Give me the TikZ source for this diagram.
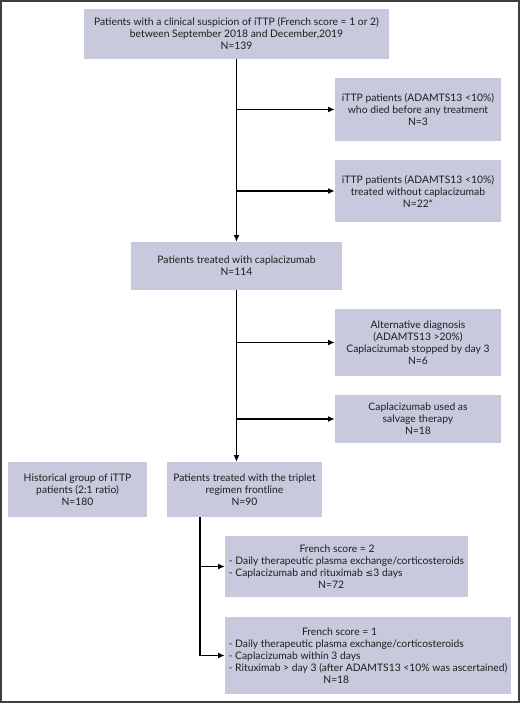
\documentclass[tikz,border=0pt]{standalone}
\usepackage{fontspec}
\setmainfont{Lato}
\usetikzlibrary{arrows.meta}
\definecolor{boxfill}{RGB}{200,201,220}
\definecolor{txt}{RGB}{30,30,30}
\newcommand{\myle}{{\fontspec{DejaVu Sans}\fontsize{7.1}{9}\selectfont≤}}
\begin{document}
\begin{tikzpicture}[x=0.75pt,y=-0.75pt,
  box/.style={fill=boxfill,draw=none,inner sep=0pt,align=center,text=txt,
    font=\fontsize{7.75}{9}\selectfont},
  arr/.style={line width=1.3pt,-{Latex[length=5pt,width=4.5pt]}},
  ln/.style={line width=1.3pt}]
\useasboundingbox (0,0) rectangle (520,703);
\draw[line width=1.4pt,black!75] (0.7,0.7) rectangle (519.3,702.3);
\node[box,minimum width=305*0.75pt,minimum height=50*0.75pt] (top) at (236.5,34)
  {Patients with a clinical suspicion of iTTP (French score = 1 or 2)\\between September 2018 and December,2019\\N=139};
\node[box,minimum width=166*0.75pt,minimum height=63*0.75pt] (died) at (418,109.5)
  {iTTP patients (ADAMTS13 <10\%)\\who died before any treatment\\N=3};
\node[box,minimum width=166*0.75pt,minimum height=62*0.75pt] (without) at (418,191)
  {iTTP patients (ADAMTS13 <10\%)\\treated without caplacizumab\\N=22*};
\node[box,minimum width=211*0.75pt,minimum height=48*0.75pt] (capla) at (236.5,266)
  {Patients treated with caplacizumab\\N=114};
\node[box,minimum width=166*0.75pt,minimum height=67*0.75pt] (alt) at (418,342.5)
  {Alternative diagnosis\\(ADAMTS13 >20\%)\\Caplacizumab stopped by day 3\\N=6};
\node[box,minimum width=166*0.75pt,minimum height=48*0.75pt] (salv) at (418,419)
  {Caplacizumab used as\\salvage therapy\\N=18};
\node[box,minimum width=139*0.75pt,minimum height=55*0.75pt] (hist) at (77.5,489.5)
  {Historical group of iTTP\\patients (2:1 ratio)\\N=180};
\node[box,minimum width=155*0.75pt,minimum height=55*0.75pt] (trip) at (244.5,489.5)
  {Patients treated with the triplet\\regimen frontline\\N=90};
\node[box,align=left,minimum width=243*0.75pt,minimum height=61*0.75pt] (fr2) at (346.5,566.5)
  {\hspace*{53pt}French score = 2\\- Daily therapeutic plasma exchange/corticosteroids\\- Caplacizumab and rituximab \myle3 days\\\hspace*{67pt}N=72};
\node[box,align=left,minimum width=286*0.75pt,minimum height=77*0.75pt] (fr1) at (368,655.5)
  {\hspace*{55pt}French score = 1\\- Daily therapeutic plasma exchange/corticosteroids\\- Caplacizumab within 3 days\\- Rituximab > day 3 (after ADAMTS13 <10\% was ascertained)\\\hspace*{71pt}N=18};
\draw[arr] (top.south) -- (capla.north);
\draw[arr] (top.south |- died.west) -- (died.west);
\draw[arr] (top.south |- without.west) -- (without.west);
\draw[arr] (capla.south) -- (capla.south |- trip.north);
\draw[arr] (capla.south |- alt.west) -- (alt.west);
\draw[arr] (capla.south |- salv.west) -- (salv.west);
\path (trip.south) ++(-44.5,0) coordinate (tb);
\draw[arr] (tb) |- (fr1.west);
\draw[arr] (tb |- fr2.west) -- (fr2.west);
\end{tikzpicture}
\end{document}
